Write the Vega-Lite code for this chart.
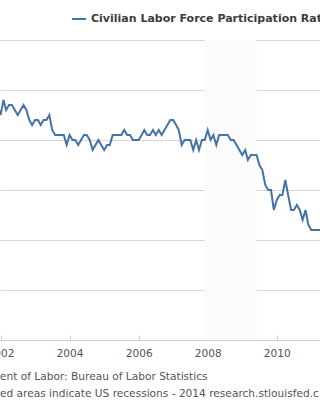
{
  "$schema": "https://vega.github.io/schema/vega-lite/v6.json",
  "width": 320,
  "height": 300,
  "autosize": {"type": "none"},
  "padding": {"left": 0, "top": 40, "right": 0, "bottom": 60},
  "background": "white",
  "config": {"view": {"stroke": null}, "font": "DejaVu Sans"},
  "title": {
    "text": ["ent of Labor: Bureau of Labor Statistics", "ed areas indicate US recessions - 2014 research.stlouisfed.c"],
    "orient": "bottom", "anchor": "start", "frame": "group",
    "fontSize": 10.6, "fontWeight": "normal", "color": "#555555",
    "lineHeight": 17, "offset": 13, "font": "DejaVu Sans"
  },
  "layer": [
    {
      "data": {"values": [{"start": "2007-12-01", "end": "2009-06-01"}]},
      "mark": {"type": "rect", "color": "#fbfbfb", "clip": true},
      "encoding": {
        "x": {"field": "start", "type": "temporal",
          "scale": {"domain": [{"year": 2001, "month": 12, "date": 26}, {"year": 2011, "month": 4, "date": 3}]},
          "axis": {
            "values": [{"year": 2002}, {"year": 2004}, {"year": 2006}, {"year": 2008}, {"year": 2010}],
            "format": "%Y", "title": null, "grid": false,
            "labelFont": "DejaVu Sans", "labelFontSize": 10.6, "labelColor": "#555555",
            "labelFlush": false, "labelBound": false, "labelOverlap": false,
            "domainColor": "#c0d0e0", "tickColor": "#c0d0e0", "tickSize": -5, "labelPadding": 13
          }},
        "x2": {"field": "end"}
      }
    },
    {
      "data": {"values": [
        {"date": "2001-12-01", "value": 66.7},
        {"date": "2002-01-01", "value": 66.5}, {"date": "2002-02-01", "value": 66.8}, {"date": "2002-03-01", "value": 66.6}, {"date": "2002-04-01", "value": 66.7},
        {"date": "2002-05-01", "value": 66.7}, {"date": "2002-06-01", "value": 66.6}, {"date": "2002-07-01", "value": 66.5}, {"date": "2002-08-01", "value": 66.6},
        {"date": "2002-09-01", "value": 66.7}, {"date": "2002-10-01", "value": 66.6}, {"date": "2002-11-01", "value": 66.4}, {"date": "2002-12-01", "value": 66.3},
        {"date": "2003-01-01", "value": 66.4}, {"date": "2003-02-01", "value": 66.4}, {"date": "2003-03-01", "value": 66.3}, {"date": "2003-04-01", "value": 66.4},
        {"date": "2003-05-01", "value": 66.4}, {"date": "2003-06-01", "value": 66.5}, {"date": "2003-07-01", "value": 66.2}, {"date": "2003-08-01", "value": 66.1},
        {"date": "2003-09-01", "value": 66.1}, {"date": "2003-10-01", "value": 66.1}, {"date": "2003-11-01", "value": 66.1}, {"date": "2003-12-01", "value": 65.9},
        {"date": "2004-01-01", "value": 66.1}, {"date": "2004-02-01", "value": 66.0}, {"date": "2004-03-01", "value": 66.0}, {"date": "2004-04-01", "value": 65.9},
        {"date": "2004-05-01", "value": 66.0}, {"date": "2004-06-01", "value": 66.1}, {"date": "2004-07-01", "value": 66.1}, {"date": "2004-08-01", "value": 66.0},
        {"date": "2004-09-01", "value": 65.8}, {"date": "2004-10-01", "value": 65.9}, {"date": "2004-11-01", "value": 66.0}, {"date": "2004-12-01", "value": 65.9},
        {"date": "2005-01-01", "value": 65.8}, {"date": "2005-02-01", "value": 65.9}, {"date": "2005-03-01", "value": 65.9}, {"date": "2005-04-01", "value": 66.1},
        {"date": "2005-05-01", "value": 66.1}, {"date": "2005-06-01", "value": 66.1}, {"date": "2005-07-01", "value": 66.1}, {"date": "2005-08-01", "value": 66.2},
        {"date": "2005-09-01", "value": 66.1}, {"date": "2005-10-01", "value": 66.1}, {"date": "2005-11-01", "value": 66.0}, {"date": "2005-12-01", "value": 66.0},
        {"date": "2006-01-01", "value": 66.0}, {"date": "2006-02-01", "value": 66.1}, {"date": "2006-03-01", "value": 66.2}, {"date": "2006-04-01", "value": 66.1},
        {"date": "2006-05-01", "value": 66.1}, {"date": "2006-06-01", "value": 66.2}, {"date": "2006-07-01", "value": 66.1}, {"date": "2006-08-01", "value": 66.2},
        {"date": "2006-09-01", "value": 66.1}, {"date": "2006-10-01", "value": 66.2}, {"date": "2006-11-01", "value": 66.3}, {"date": "2006-12-01", "value": 66.4},
        {"date": "2007-01-01", "value": 66.4}, {"date": "2007-02-01", "value": 66.3}, {"date": "2007-03-01", "value": 66.2}, {"date": "2007-04-01", "value": 65.9},
        {"date": "2007-05-01", "value": 66.0}, {"date": "2007-06-01", "value": 66.0}, {"date": "2007-07-01", "value": 66.0}, {"date": "2007-08-01", "value": 65.8},
        {"date": "2007-09-01", "value": 66.0}, {"date": "2007-10-01", "value": 65.8}, {"date": "2007-11-01", "value": 66.0}, {"date": "2007-12-01", "value": 66.0},
        {"date": "2008-01-01", "value": 66.2}, {"date": "2008-02-01", "value": 66.0}, {"date": "2008-03-01", "value": 66.1}, {"date": "2008-04-01", "value": 65.9},
        {"date": "2008-05-01", "value": 66.1}, {"date": "2008-06-01", "value": 66.1}, {"date": "2008-07-01", "value": 66.1}, {"date": "2008-08-01", "value": 66.1},
        {"date": "2008-09-01", "value": 66.0}, {"date": "2008-10-01", "value": 66.0}, {"date": "2008-11-01", "value": 65.9}, {"date": "2008-12-01", "value": 65.8},
        {"date": "2009-01-01", "value": 65.7}, {"date": "2009-02-01", "value": 65.8}, {"date": "2009-03-01", "value": 65.6}, {"date": "2009-04-01", "value": 65.7},
        {"date": "2009-05-01", "value": 65.7}, {"date": "2009-06-01", "value": 65.7}, {"date": "2009-07-01", "value": 65.5}, {"date": "2009-08-01", "value": 65.4},
        {"date": "2009-09-01", "value": 65.1}, {"date": "2009-10-01", "value": 65.0}, {"date": "2009-11-01", "value": 65.0}, {"date": "2009-12-01", "value": 64.6},
        {"date": "2010-01-01", "value": 64.8}, {"date": "2010-02-01", "value": 64.9}, {"date": "2010-03-01", "value": 64.9}, {"date": "2010-04-01", "value": 65.2},
        {"date": "2010-05-01", "value": 64.9}, {"date": "2010-06-01", "value": 64.6}, {"date": "2010-07-01", "value": 64.6}, {"date": "2010-08-01", "value": 64.7},
        {"date": "2010-09-01", "value": 64.6}, {"date": "2010-10-01", "value": 64.4}, {"date": "2010-11-01", "value": 64.6}, {"date": "2010-12-01", "value": 64.3},
        {"date": "2011-01-01", "value": 64.2}, {"date": "2011-02-01", "value": 64.2}, {"date": "2011-03-01", "value": 64.2}, {"date": "2011-04-01", "value": 64.2},
        {"date": "2011-05-01", "value": 64.2}
      ]},
      "mark": {"type": "line", "clip": true, "strokeWidth": 2, "color": "#4572A7"},
      "encoding": {
        "x": {"field": "date", "type": "temporal",
          "scale": {"domain": [{"year": 2001, "month": 12, "date": 26}, {"year": 2011, "month": 4, "date": 3}]},
          "axis": {
            "values": [{"year": 2002}, {"year": 2004}, {"year": 2006}, {"year": 2008}, {"year": 2010}],
            "format": "%Y", "title": null, "grid": false,
            "labelFont": "DejaVu Sans", "labelFontSize": 10.6, "labelColor": "#555555",
            "labelFlush": false, "labelBound": false, "labelOverlap": false,
            "domainColor": "#c0d0e0", "tickColor": "#c0d0e0", "tickSize": -5, "labelPadding": 13
          }},
        "y": {"field": "value", "type": "quantitative",
          "scale": {"domain": [62, 68], "nice": false, "zero": false},
          "axis": {"values": [62, 63, 64, 65, 66, 67, 68], "grid": true, "gridColor": "#d8d8d8",
            "labels": false, "ticks": false, "domain": false, "title": null}},
        "color": {"datum": "Civilian Labor Force Participation Rate", "type": "nominal",
          "scale": {"range": ["#4572A7"]},
          "legend": {"orient": "none", "legendX": 71, "legendY": -29, "title": null,
            "symbolType": "stroke", "symbolSize": 196, "symbolStrokeWidth": 2,
            "labelFont": "DejaVu Sans", "labelFontSize": 11, "labelFontWeight": "bold",
            "labelColor": "#3d3d3d", "labelLimit": 400, "labelOffset": 4}}
      }
    }
  ]
}
